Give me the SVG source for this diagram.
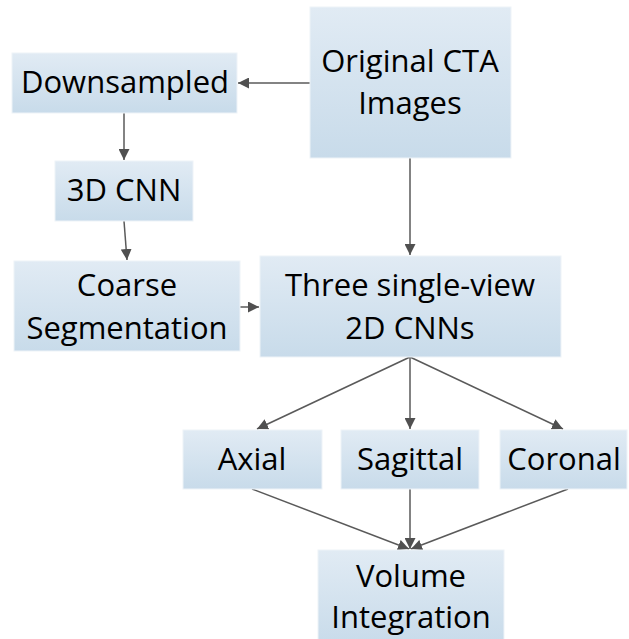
<svg xmlns="http://www.w3.org/2000/svg" width="629" height="639" viewBox="0 0 629 639">
<defs>
<linearGradient id="g" x1="0" y1="0" x2="0" y2="1">
<stop offset="0" stop-color="#e1ebf4"/>
<stop offset="1" stop-color="#c8dbea"/>
</linearGradient>
<marker id="a" viewBox="0 0 10 10" refX="10" refY="5" markerWidth="11" markerHeight="11" markerUnits="userSpaceOnUse" orient="auto">
<path d="M0,0 L10,5 L0,10 z" fill="#505050"/>
</marker>
</defs>
<style>
rect{fill:url(#g);stroke:#eef3f8;stroke-width:1}
text{font-family:"Open Sans","Liberation Sans",sans-serif;font-size:31px;fill:#000;text-anchor:middle}
#connectors line{stroke:#5a5a5a;stroke-width:1.5;marker-end:url(#a)}
</style>
<rect x="0" y="0" width="629" height="639" style="fill:#fff;stroke:none"/>
<g id="connectors">
<line x1="310" y1="83" x2="238" y2="83"/>
<line x1="124" y1="113" x2="124" y2="160"/>
<line x1="124" y1="221" x2="127" y2="260"/>
<line x1="410" y1="158" x2="410" y2="255"/>
<line x1="240" y1="307" x2="259" y2="307"/>
<line x1="410" y1="357" x2="257" y2="429"/>
<line x1="410" y1="357" x2="410" y2="429"/>
<line x1="410" y1="357" x2="563" y2="429"/>
<line x1="252" y1="489" x2="409" y2="549"/>
<line x1="410" y1="489" x2="410" y2="549"/>
<line x1="568" y1="489" x2="411" y2="549"/>
</g>
<g id="orig"><rect x="310" y="7" width="201" height="151"/><text x="410" y="72">Original CTA</text><text x="410" y="114">Images</text></g>
<g id="down"><rect x="12" y="53" width="225" height="60"/><text x="125" y="93">Downsampled</text></g>
<g id="cnn3d"><rect x="55" y="161" width="138" height="60"/><text x="124" y="201">3D CNN</text></g>
<g id="coarse"><rect x="14" y="261" width="226" height="90"/><text x="127" y="296">Coarse</text><text x="127" y="339">Segmentation</text></g>
<g id="three"><rect x="260" y="256" width="301" height="101"/><text x="410" y="296">Three single-view</text><text x="410" y="339">2D CNNs</text></g>
<g id="axial"><rect x="183" y="430" width="139" height="59"/><text x="252" y="470">Axial</text></g>
<g id="sagittal"><rect x="341" y="430" width="138" height="59"/><text x="410" y="470">Sagittal</text></g>
<g id="coronal"><rect x="500" y="430" width="127" height="59"/><text x="564" y="470">Coronal</text></g>
<g id="volume"><rect x="318" y="550" width="186" height="95"/><text x="411" y="587">Volume</text><text x="411" y="628">Integration</text></g>
</svg>
